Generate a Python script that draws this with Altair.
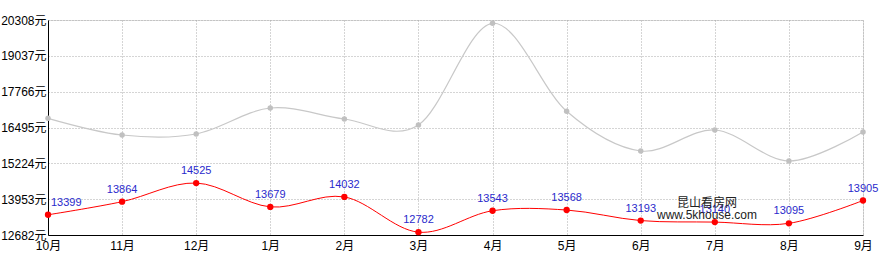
import altair as alt
import pandas as pd

months = ["10月", "11月", "12月", "1月", "2月", "3月", "4月", "5月", "6月", "7月", "8月", "9月"]
red_values = [13399, 13864, 14525, 13679, 14032, 12782, 13543, 13568, 13193, 13140, 13095, 13905]
gray_values = [16821, 16229, 16265, 17187, 16797, 16584, 20191, 17070, 15662, 16406, 15307, 16335]
y_ticks = [12682, 13953, 15224, 16495, 17766, 19037, 20308]

df = pd.DataFrame({"month": months, "red": red_values, "gray": gray_values, "idx": list(range(len(months)))})

FONT = "Liberation Sans, Noto Sans CJK SC, sans-serif"

xaxis = alt.Axis(title=None, labelAngle=0, labelFontSize=12, labelColor="#000", labelFont=FONT,
                 domainColor="#000", tickSize=0, labelPadding=5, labelOverlap=False,
                 grid=True, gridColor="#aaaaaa", gridDash=[1, 2], gridWidth=1)
xscale = alt.Scale(type="point", padding=0)
x = alt.X("month:N", sort=months, scale=xscale, axis=xaxis)
yscale = alt.Scale(domain=[12682, 20308], nice=False, zero=False)
yaxis = alt.Axis(title=None, values=y_ticks, tickCount=7, labelExpr="datum.value + '元'", labelFontSize=12,
                 labelColor="#000", labelFont=FONT, domainColor="#000", tickSize=0, labelPadding=2,
                 labelOverlap=False, labelBound=False, labelFlush=False,
                 grid=True, gridColor="#aaaaaa", gridDash=[1, 2], gridWidth=1)


def Y(field):
    return alt.Y(field, type="quantitative", scale=yscale, axis=yaxis)


base = alt.Chart(df)

gray_line = base.mark_line(interpolate="cardinal", color="#c8c8c8", strokeWidth=1.2).encode(x=x, y=Y("gray"))
gray_pts = base.mark_circle(color="#c0c0c0", size=30, opacity=1).encode(x=x, y=Y("gray"))
red_line = base.mark_line(interpolate="cardinal", color="#ff0000", strokeWidth=1).encode(x=x, y=Y("red"))
red_pts = base.mark_circle(color="#ff0000", size=40, opacity=1).encode(x=x, y=Y("red"))
labels = base.transform_filter("datum.idx > 0").mark_text(dy=-12, fontSize=11, color="#2a2acc", font=FONT).encode(
    x=x, y=Y("red"), text="red:Q")
label_first = base.transform_filter("datum.idx == 0").mark_text(dy=-12, dx=3, align="left", fontSize=11,
                                                                 color="#2a2acc", font=FONT).encode(
    x=x, y=Y("red"), text="red:Q")

wm = pd.DataFrame({"t": ["昆山看房网", "www.5khouse.com"], "py": [183, 195]})
watermark = alt.Chart(wm).mark_text(fontSize=12, color="#222", font=FONT).encode(
    x=alt.value(659), y=alt.Y("py:Q", scale=None), text="t:N")

chart = alt.layer(gray_line, gray_pts, red_line, red_pts, labels, label_first, watermark).properties(
    width=815, height=215,
    padding={"left": 48, "top": 20, "right": 29, "bottom": 35},
    autosize=alt.AutoSizeParams(type="none"),
).configure_view(stroke=None).configure(background="white")

chart.save("out.html", embed_options={"renderer": "svg", "actions": False})
